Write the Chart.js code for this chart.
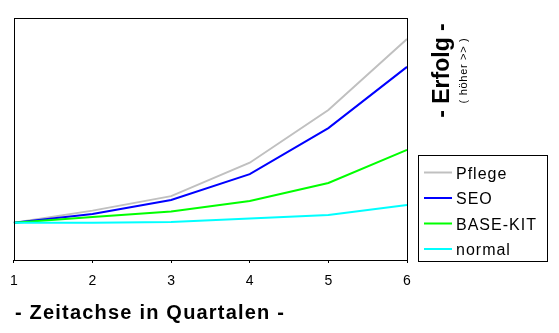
<!DOCTYPE html>
<html>
<head>
<meta charset="utf-8">
<script src="https://cdn.jsdelivr.net/npm/chart.js@4"></script>
<style>
  html, body { margin: 0; padding: 0; background: #fff; }
  canvas { display: block; }
</style>
</head>
<body>
<canvas id="chart" width="559" height="333"></canvas>
<script>
// Quarters on the time axis and the success curves per strategy
const quarters = ['1', '2', '3', '4', '5', '6'];
const pflege   = [15.4, 20.4, 26.4, 40.2, 62.0, 91.3];
const seo      = [15.4, 19.0, 24.8, 35.5, 54.5, 79.8];
const baseKit  = [15.4, 17.8, 20.0, 24.4, 31.8, 45.5];
const normal   = [15.4, 15.4, 15.7, 17.1, 18.6, 22.7];

const seriesNames  = ['Pflege', 'SEO', 'BASE-KIT', 'normal'];
const seriesValues = [pflege, seo, baseKit, normal];
const seriesColors = ['#c0c0c0', '#0000ff', '#00ff00', '#00ffff'];

const xTitle = '- Zeitachse in Quartalen -';
const yTitle = '- Erfolg -';
const ySubTitle = '( höher >> )';

const FONT = '"Liberation Sans", Arial, sans-serif';

// Frame around the plot, boxed legend and the axis captions
const decorations = {
  id: 'decorations',
  afterDraw(chart) {
    const ctx = chart.ctx;
    const a = chart.chartArea;
    ctx.save();

    // plot frame
    ctx.strokeStyle = '#000';
    ctx.lineWidth = 1;
    ctx.strokeRect(Math.round(a.left) + 0.5, Math.round(a.top) + 0.5,
                   Math.round(a.right - a.left), Math.round(a.bottom - a.top));

    // legend box
    const lx = 418, ly = 155, lw = 129, lh = 106;
    ctx.strokeRect(lx + 0.5, ly + 0.5, lw, lh);
    ctx.font = '16px ' + FONT;
    ctx.letterSpacing = '1px';
    ctx.fillStyle = '#000';
    ctx.textAlign = 'left';
    ctx.textBaseline = 'alphabetic';
    chart.data.datasets.forEach((ds, i) => {
      const cy = 172.5 + i * 25.5;
      ctx.strokeStyle = ds.borderColor;
      ctx.lineWidth = 2;
      ctx.beginPath();
      ctx.moveTo(424, cy);
      ctx.lineTo(452, cy);
      ctx.stroke();
      ctx.fillText(ds.label, 456, cy + 6);
    });

    // x axis caption
    ctx.font = 'bold 20px ' + FONT;
    ctx.letterSpacing = '1.2px';
    ctx.fillText(xTitle, 15, 319);

    // vertical captions on the right
    ctx.letterSpacing = '0px';
    ctx.save();
    ctx.translate(449, 70.5);
    ctx.rotate(-Math.PI / 2);
    ctx.textAlign = 'center';
    ctx.font = 'bold 23px ' + FONT;
    ctx.fillText(yTitle, 0, 0);
    ctx.restore();

    ctx.save();
    ctx.translate(467, 70.5);
    ctx.rotate(-Math.PI / 2);
    ctx.textAlign = 'center';
    ctx.font = '11px ' + FONT;
    ctx.letterSpacing = '0.7px';
    ctx.fillText(ySubTitle, 0, 0);
    ctx.restore();

    ctx.restore();
  }
};

const order = [4, 3, 2, 1];

new Chart(document.getElementById('chart'), {
  type: 'line',
  data: {
    labels: quarters,
    datasets: seriesNames.map((name, i) => ({
      label: name,
      data: seriesValues[i],
      borderColor: seriesColors[i],
      backgroundColor: seriesColors[i],
      borderWidth: 2,
      pointRadius: 0,
      tension: 0,
      fill: false,
      order: order[i]
    }))
  },
  options: {
    responsive: false,
    animation: false,
    events: [],
    layout: { padding: { left: 10, right: 152, top: 18, bottom: 0 } },
    plugins: {
      legend: { display: false },
      tooltip: { enabled: false },
      title: { display: false }
    },
    scales: {
      x: {
        type: 'category',
        offset: false,
        afterFit(scale) { scale.height = 73; },
        border: { display: false },
        grid: {
          drawOnChartArea: false,
          drawTicks: true,
          tickLength: 3,
          color: '#000',
          lineWidth: 1
        },
        ticks: {
          color: '#000',
          padding: 10,
          maxRotation: 0,
          autoSkip: false,
          font: { family: FONT, size: 14 }
        }
      },
      y: {
        display: false,
        min: 0,
        max: 100
      }
    }
  },
  plugins: [decorations]
});
</script>
</body>
</html>
